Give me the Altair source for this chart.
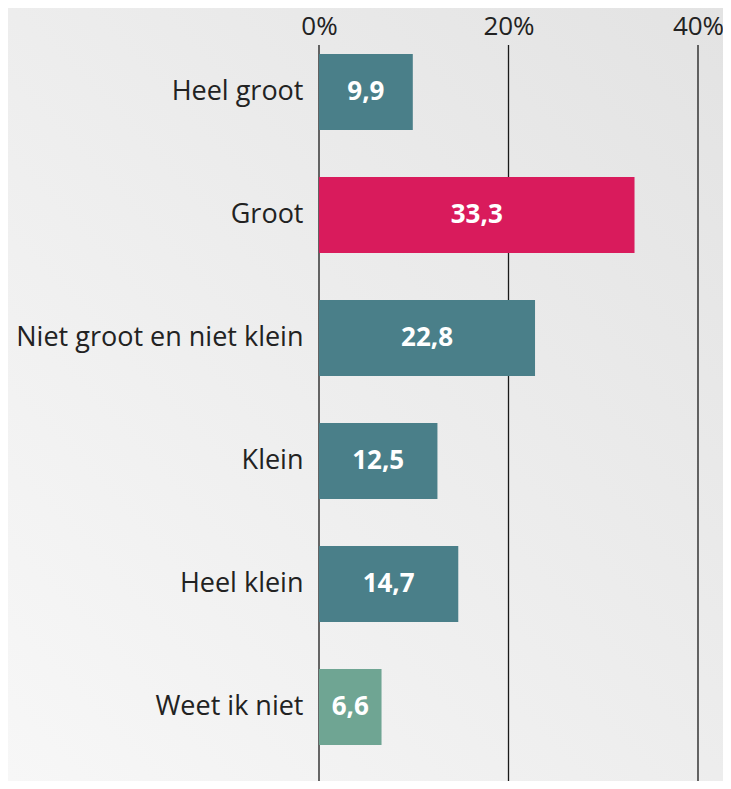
import altair as alt
import pandas as pd

categories = ["Heel groot", "Groot", "Niet groot en niet klein", "Klein", "Heel klein", "Weet ik niet"]
values = [9.9, 33.3, 22.8, 12.5, 14.7, 6.6]
bar_colors = ["#4a7f89", "#d91b5c", "#4a7f89", "#4a7f89", "#4a7f89", "#6fa593"]
x_ticks = [0, 20, 40]

df = pd.DataFrame({"cat": categories, "val": values, "col": bar_colors})
grid_df = pd.DataFrame({"t": x_ticks})

FONT = "Open Sans"
W, H = 404, 736
x_scale = alt.Scale(domain=[0, W / 9.475], nice=False, zero=True)
y_scale = alt.Scale(domain=categories, paddingInner=0.382, paddingOuter=0.183, align=0.2)

bg = alt.Chart(pd.DataFrame({"a": [0]})).mark_rect(
    fill=alt.Gradient(
        gradient="linear",
        stops=[alt.GradientStop(color="#f7f7f7", offset=0), alt.GradientStop(color="#e3e3e3", offset=1)],
        x1=0, y1=1, x2=1, y2=0,
    ),
    clip=False,
).encode(x=alt.value(-311), x2=alt.value(W), y=alt.value(-37), y2=alt.value(H))

grid = alt.Chart(grid_df).mark_rule(color="#1a1a1a", strokeWidth=1.3).encode(
    x=alt.X("t:Q", scale=x_scale,
            axis=alt.Axis(orient="top", values=x_ticks, labelExpr="datum.value + '%'",
                          title=None, domain=False, ticks=False, tickSize=0, labelPadding=11,
                          labelBaseline="alphabetic", labelFlush=False, labelAlign="center",
                          labelFontSize=26, labelColor="#222222", labelFont=FONT,
                          grid=False, zindex=2)),
    y=alt.value(0),
    y2=alt.value(H),
)

bars = alt.Chart(df).mark_bar().encode(
    y=alt.Y("cat:N", scale=y_scale, sort=categories,
            axis=alt.Axis(title=None, domain=False, ticks=False, tickSize=0, labelPadding=16,
                          labelFontSize=27, labelColor="#222222", labelFont=FONT, labelLimit=400,
                          grid=False, zindex=2)),
    x=alt.X("val:Q", scale=x_scale),
    color=alt.Color("col:N", scale=None),
)

text = alt.Chart(df).transform_calculate(
    lbl="replace(format(datum.val, '.1f'), '.', ',')",
    mid="datum.val / 2",
).mark_text(font=FONT, fontSize=26, fontWeight="bold", color="white", baseline="middle", align="center").encode(
    y=alt.Y("cat:N", scale=y_scale, sort=categories),
    x=alt.X("mid:Q", scale=x_scale),
    text="lbl:N",
)

chart = alt.layer(bg, grid, bars, text).properties(
    width=W, height=H,
    background="#eeeeee",
    padding={"left": 311, "top": 37, "right": 0, "bottom": 0},
    autosize=alt.AutoSizeParams(type="none"),
).configure_view(stroke=None)

chart.save("out.html", embed_options={"renderer": "svg", "actions": False})
